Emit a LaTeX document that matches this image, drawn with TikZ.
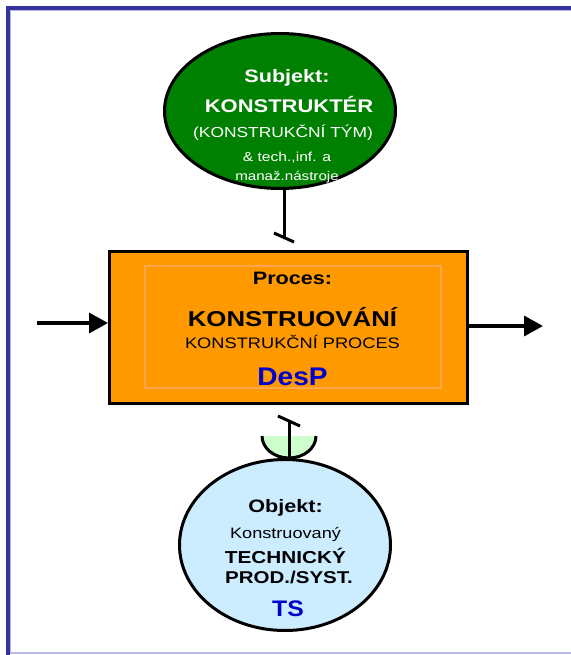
\documentclass[tikz,border=0pt]{standalone}
\usepackage{fontspec}
\setmainfont{Liberation Sans}[FakeStretch=1.2]
\newfontfamily\tagfont{Liberation Sans}[FakeStretch=1.1]
\usetikzlibrary{arrows.meta,shapes.geometric}

\definecolor{framedark}{HTML}{333399}
\definecolor{framelight}{HTML}{B8B8E8}
\definecolor{subjgreen}{HTML}{008000}
\definecolor{procorange}{HTML}{FF9900}
\definecolor{innerorange}{HTML}{FFA54A}
\definecolor{objblue}{HTML}{CCECFF}
\definecolor{cupgreen}{HTML}{CCFFCC}
\definecolor{tagblue}{HTML}{0000CC}

\newcommand\fsz[1]{\fontsize{#1}{#1}\selectfont}

\tikzset{
  outline/.style={draw=black, line width=3pt},
  blob/.style={ellipse, outline, inner sep=0pt},
  flow/.style={draw=black, line width=3.5pt, -{Triangle[length=19pt,width=20pt]}},
  txt/.style={anchor=base, inner sep=0pt, outer sep=0pt},
}

\begin{document}
\begin{tikzpicture}[x=1pt, y=-1pt]
  \useasboundingbox (0,0) rectangle (570,655);

  % page frame
  \draw[framelight, line width=0.8pt] (10.6,653) -- (10.6,10.6) -- (572,10.6);
  \draw[framelight, line width=1.2pt] (8,653) -- (572,653);
  \draw[framedark, line width=4pt] (8,655) -- (8,8) -- (572,8);

  % subject: designer
  \coordinate (subjfoot) at (284,237.5);
  \node[blob, fill=subjgreen, minimum width=231pt, minimum height=155pt] (subj) at (280,111) {};
  \draw[outline] (subjfoot |- subj.south) -- (subjfoot);
  \draw[outline] (subjfoot) ++(-10,-4.5) -- ++(20,9);

  \node[txt, text=white, font=\bfseries\fsz{18}] (subjtitle) at (287,83) {Subjekt:};
  \node[txt, text=white, font=\bfseries\fsz{18.3}] (subjname) at (289,113) {KONSTRUKTÉR};
  \node[txt, text=white, font=\fsz{14.5}] (subjteam) at (283,138) {(KONSTRUKČNÍ TÝM)};
  \node[txt, text=white, font=\fsz{13}] (subjtools1) at (287,161.5) {\& tech.,inf. a};
  \node[txt, text=white, font=\fsz{12.6}] (subjtools2) at (287,180) {manaž.nástroje};

  % process box
  \node[outline, fill=procorange, minimum width=358pt, minimum height=152pt, inner sep=0pt] (proc) at (288.5,327.5) {};
  \node[draw=innerorange, line width=2pt, minimum width=296pt, minimum height=122pt, inner sep=0pt] (procinner) at (293,327) {};

  \node[txt, font=\bfseries\fsz{18}] (proctitle) at (292.5,284) {Proces:};
  \node[txt, font=\bfseries\fsz{21.5}] (procname) at (292.5,326.5) {KONSTRUOVÁNÍ};
  \node[txt, font=\fsz{15.2}] (procsub) at (292.5,348) {KONSTRUKČNÍ PROCES};
  \node[txt, text=tagblue, font=\tagfont\bfseries\fsz{25.5}] (proctag) at (292.5,385) {DesP};

  % input and output
  \coordinate (inflow) at (37,323);
  \coordinate (outflow) at (543,326);
  \draw[flow] (inflow) -- (inflow -| proc.west);
  \draw[flow] (outflow -| proc.east) -- (outflow);

  % object: technical system
  \coordinate (cupc) at (289,436);
  \coordinate (cupfoot) at (289,421);
  \node[blob, fill=objblue, minimum width=211pt, minimum height=171pt] (obj) at (285,545) {};
  \fill[cupgreen] (cupc) ++(-27,0) arc[start angle=180, end angle=0, x radius=27, y radius=22] -- cycle;
  \draw[black, line width=3pt] (cupc) ++(-27,0) arc[start angle=180, end angle=0, x radius=27, y radius=22];
  \draw[outline] (cupfoot) -- (cupfoot |- obj.north);
  \draw[outline] (cupfoot) ++(-11,-5) -- ++(22,10);

  \node[txt, font=\bfseries\fsz{18}] (objtitle) at (285.5,512) {Objekt:};
  \node[txt, font=\fsz{15.1}] (objkind) at (285.5,538) {Konstruovaný};
  \node[txt, font=\bfseries\fsz{17.3}] (objname1) at (285.5,563) {TECHNICKÝ};
  \node[txt, font=\bfseries\fsz{17.1}] (objname2) at (289,583) {PROD./SYST.};
  \node[txt, text=tagblue, font=\tagfont\bfseries\fsz{22.5}] (objtag) at (288,616.5) {TS};
\end{tikzpicture}
\end{document}
